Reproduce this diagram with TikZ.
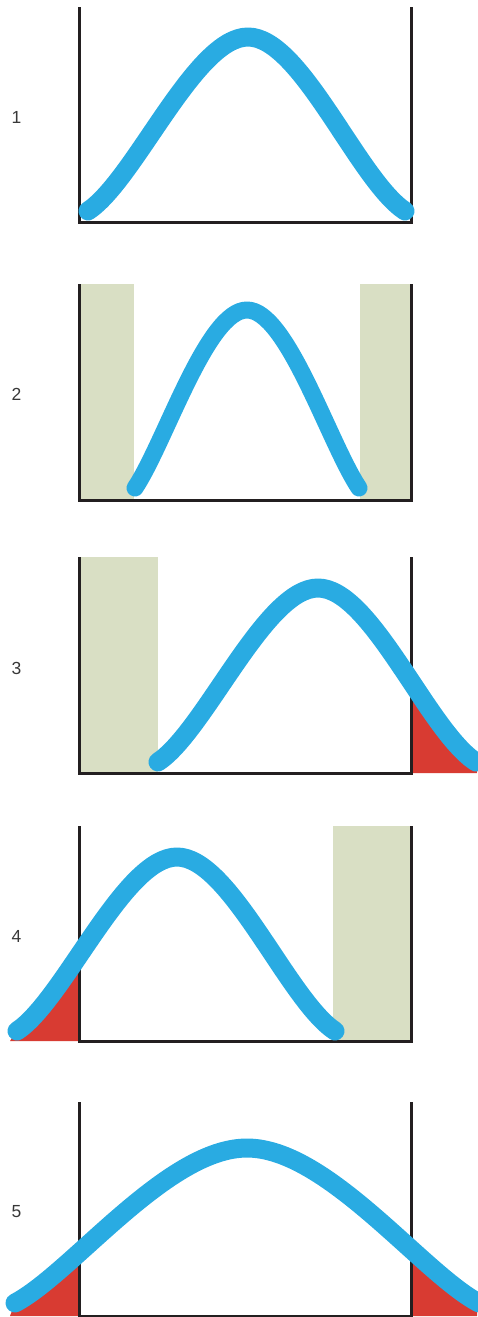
\documentclass[tikz,border=0pt]{standalone}
\usepackage{fontspec}
\setmainfont{Liberation Sans}
\definecolor{bellblue}{HTML}{29ABE2}
\definecolor{bandgreen}{HTML}{D9DFC4}
\definecolor{tailred}{HTML}{D83B32}
\definecolor{axisblack}{HTML}{231F20}

\begin{document}
\begin{tikzpicture}[
        x=1pt, y=-1pt,
        axis/.style={draw=axisblack, line width=3pt},
        bell/.style={draw=bellblue, line width=19pt, line cap=round, line join=round},
        band/.style={fill=bandgreen},
        tail/.style={fill=tailred},
        numlbl/.style={font=\fontsize{17.5}{20}\selectfont, text=black!78, inner sep=0pt},
    ]
    \useasboundingbox (0,0) rectangle (477,1317);

    % 1
    \node[numlbl] (n1) at (16.5,117) {1};
    \draw[axis] (79,7) -- (79,222) -- (411,222) -- (411,7);
    \draw[bell] (88,211) .. controls (135,180) and (195,37) .. (248,37)
                         .. controls (301,37) and (358,180) .. (405,211);

    % 2
    \fill[band] (79,284) rectangle (134,500);
    \fill[band] (360,284) rectangle (411,500);
    \node[numlbl] (n2) at (16.5,394) {2};
    \draw[axis] (79,284) -- (79,500) -- (411,500) -- (411,284);
    \draw[bell, line width=17pt] (135,488) .. controls (165,443) and (207,310) .. (247,310)
                                           .. controls (287,310) and (329,443) .. (359,488);

    % 3
    \fill[band] (79,557) rectangle (158,773);
    \begin{scope}
        \clip (412,600) rectangle (477,773);
        \fill[tail] (158,762) .. controls (205,731) and (265,588) .. (318,588)
                              .. controls (371,588) and (428,731) .. (476,762)
                    -- (477,773) -- (158,773) -- cycle;
    \end{scope}
    \node[numlbl] (n3) at (16.5,668) {3};
    \draw[axis] (79,557) -- (79,773) -- (411,773) -- (411,557);
    \draw[bell] (158,762) .. controls (205,731) and (265,588) .. (318,588)
                          .. controls (371,588) and (428,731) .. (476,762);

    % 4
    \fill[band] (333,826) rectangle (411,1041);
    \begin{scope}
        \clip (0,900) rectangle (78,1041);
        \fill[tail] (17,1031) .. controls (64,1000) and (124,857) .. (177,857)
                              .. controls (230,857) and (288,1000) .. (335,1031)
                    -- (335,1041) -- (10,1041) -- cycle;
    \end{scope}
    \node[numlbl] (n4) at (16.5,936) {4};
    \draw[axis] (79,826) -- (79,1041) -- (411,1041) -- (411,826);
    \draw[bell] (17,1031) .. controls (64,1000) and (124,857) .. (177,857)
                          .. controls (230,857) and (288,1000) .. (335,1031);

    % 5
    \begin{scope}
        \clip (0,1180) rectangle (78,1316) (412,1180) rectangle (477,1316);
        \fill[tail] (15,1303) .. controls (72,1273) and (167,1148) .. (247,1148)
                              .. controls (327,1148) and (422,1273) .. (479,1303)
                    -- (479,1316) -- (10,1316) -- cycle;
    \end{scope}
    \node[numlbl] (n5) at (16.5,1212) {5};
    \draw[axis] (79,1102) -- (79,1316) -- (411,1316) -- (411,1102);
    \draw[bell] (15,1303) .. controls (72,1273) and (167,1148) .. (247,1148)
                          .. controls (327,1148) and (422,1273) .. (479,1303);
\end{tikzpicture}
\end{document}
